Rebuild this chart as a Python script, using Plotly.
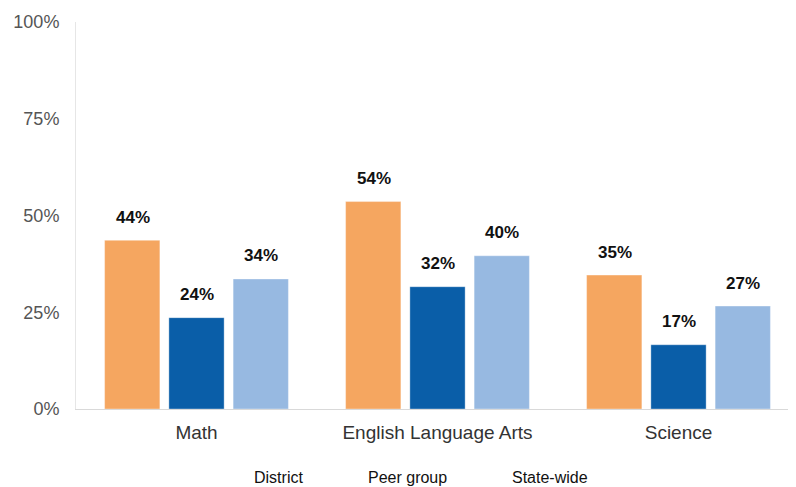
import plotly.graph_objects as go

categories = ["Math", "English Language Arts", "Science"]
series_names = ["District", "Peer group", "State-wide"]
district = [43.6, 53.6, 34.6]
peer_group = [23.6, 31.6, 16.6]
state_wide = [33.6, 39.6, 26.6]
tick_vals = [0, 25, 50, 75, 100]
tick_text = ["0%", "25%", "50%", "75%", "100%"]

colors = ["#F5A660", "#0A5EA8", "#97B9E1"]
series_values = [district, peer_group, state_wide]

FONT = "Liberation Sans, Arial"

fig = go.Figure()
for name, vals, col in zip(series_names, series_values, colors):
    fig.add_trace(go.Bar(
        x=categories, y=vals, name=name,
        marker=dict(color=col, line=dict(color="rgba(255,255,255,0.35)", width=1)),
        showlegend=False, hoverinfo="skip",
    ))

offsets = [-64, 0, 64]
for vals, dx in zip(series_values, offsets):
    for cat, v in zip(categories, vals):
        fig.add_annotation(
            x=cat, y=v, xref="x", yref="y", xshift=dx, yshift=23,
            text=f"<b>{round(v):d}%</b>", showarrow=False,
            font=dict(family=FONT, size=17, color="#111"),
        )

# text-only legend entries
legend_x = [0.2806, 0.459, 0.655]
for name, lx in zip(series_names, legend_x):
    fig.add_annotation(
        x=lx, y=-0.178, xref="paper", yref="paper", text=name, showarrow=False,
        xanchor="center", yanchor="middle",
        font=dict(family=FONT, size=16, color="#111"),
    )

fig.update_layout(
    width=791, height=479,
    margin=dict(l=68, r=0, t=14, b=78, autoexpand=False),
    paper_bgcolor="white", plot_bgcolor="white",
    barmode="group", bargap=0.2, bargroupgap=0.14,
    font=dict(family=FONT, color="#333"),
    showlegend=False,
    xaxis=dict(showline=True, linecolor="#d9d9d9", linewidth=1, ticks="",
               ticklabelstandoff=6,
               tickfont=dict(size=19, color="#333")),
    yaxis=dict(range=[0, 100], tickvals=tick_vals, ticktext=tick_text,
               showgrid=False, zeroline=False, showline=True, linecolor="#e6e6e6",
               linewidth=1, ticks="", ticklabelstandoff=12,
               tickfont=dict(size=18, color="#555")),
)

fig.write_html("out.html")
